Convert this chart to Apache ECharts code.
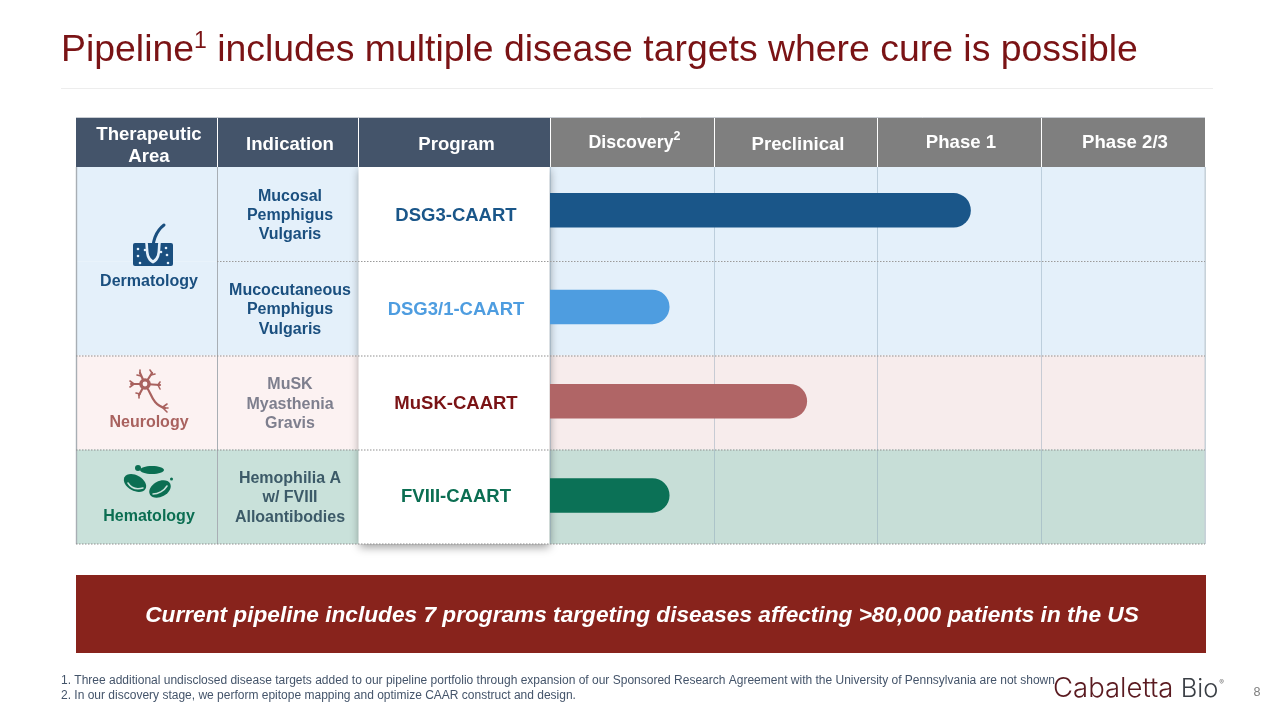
<!DOCTYPE html>
<html><head><meta charset="utf-8">
<style>html,body{margin:0;padding:0;background:#fff}#c{width:1280px;height:720px}</style>
<script src="https://cdn.jsdelivr.net/npm/echarts@6/dist/echarts.min.js"></script>
</head><body><div id="c"></div>
<script>
// ---- data ----
const stages = ['Discovery', 'Preclinical', 'Phase 1', 'Phase 2/3'];
const programs = ['DSG3-CAART', 'DSG3/1-CAART', 'MuSK-CAART', 'FVIII-CAART'];
const progress = [2.57, 0.73, 1.57, 0.73];
const programColors = ['#1A5689', '#4E9DE0', '#7A1315', '#0B6E52'];
const barColors = ['#1A5689', '#4E9DE0', '#B06566', '#0B7156'];
const indications = ['Mucosal\nPemphigus\nVulgaris', 'Mucocutaneous\nPemphigus\nVulgaris', 'MuSK\nMyasthenia\nGravis', 'Hemophilia A\nw/ FVIII\nAlloantibodies'];
const indicationColors = ['#1A4F7F', '#1A4F7F', '#7E7F8E', '#3C5A68'];

// ---- layout ----
const F = '"Liberation Sans", Arial, sans-serif';
const T = 167, RH = 94.25, L = 550, R = 1205;
const g = [];
const rect = (x, y, w, h, fill, z, extra) => g.push({type:'rect', z: z, silent:true, shape:Object.assign({x,y,width:w,height:h}, extra&&extra.shape), style:Object.assign({fill}, extra&&extra.style)});
const line = (x1, y1, x2, y2, stroke, w, dash, z) => g.push({type:'line', z: z===undefined?3:z, silent:true, shape:{x1,y1,x2,y2}, style:{stroke, lineWidth:w, lineDash:dash||null}});
const txt = (x, y, text, size, fill, o) => g.push({type:'text', z:(o&&o.z)||5, silent:true, style:Object.assign({x,y,text,fill,align:'center',verticalAlign:'middle',font:`${(o&&o.weight)||'bold'} ${size}px ${F}`}, o&&o.style)});

// title rule
line(61, 88.5, 1213, 88.5, '#EDEDED', 1);

// row bands
const bandsL = ['#E4F0FA', '#E4F0FA', '#FCF2F2', '#C9E1DA'];
const bandsR = ['#E4F0FA', '#E4F0FA', '#F7ECEC', '#C7DED7'];
bandsL.forEach((c, i) => rect(76, T + i*RH, L-76, RH, c, -20));
bandsR.forEach((c, i) => rect(L, T + i*RH, R-L, RH, c, -20));

// program panel
rect(358.5, T, 191, RH*4, '#fff', -5, {style:{shadowBlur:9, shadowColor:'rgba(0,0,0,0.4)', shadowOffsetY:3}});

// header
const navy = '#44546A', gray = '#7F7F7F';
[[76,141],[218,140],[359,191]].forEach(a => rect(a[0], 118, a[1], 49, navy, 4));
[[551,163],[715,162],[878,163],[1042,163]].forEach(a => rect(a[0], 118, a[1], 49, gray, 4));
line(76, 117.5, 1205, 117.5, '#C8CCD2', 1, null, 4);
txt(149, 146, 'Therapeutic\nArea', 18.6, '#fff', {style:{lineHeight:22}});
txt(290, 144.5, 'Indication', 18.6, '#fff');
txt(456.5, 144.5, 'Program', 18.6, '#fff');
g.push({type:'text', z:5, silent:true, style:{x:634.5, y:141, align:'center', verticalAlign:'middle', fill:'#fff',
  text:'{a|' + stages[0] + '}{s|2}', rich:{a:{font:`bold 17.8px ${F}`, fill:'#fff', verticalAlign:'bottom', lineHeight:22}, s:{font:`bold 12.5px ${F}`, fill:'#fff', verticalAlign:'top', lineHeight:22}}}});
txt(798, 145, stages[1], 18.6, '#fff');
txt(961, 143, stages[2], 18.6, '#fff');
txt(1125, 143, stages[3], 18.6, '#fff');

// left columns
line(76.5, T, 76.5, 544, '#A8AEB4', 1.4);
line(217.5, T, 217.5, 544, '#A8AEB4', 1);
line(1205, T, 1205, 544, '#C4CDD4', 1);
line(217, 261.5, R, 261.5, '#9A9A9A', 1, [1.5,1.5], 4);
[356, 450, 544].forEach(y => line(76, y, R, y, '#8F8F8F', 1, [1.5,1.5], 4));
indications.forEach((t, i) => txt(290, T + RH*(i+.5) + (i==3?1:1.5), t, 16, indicationColors[i], {style:{lineHeight:19.3}}));
txt(149, 281.5, 'Dermatology', 16, '#1A4F7F');
txt(149, 423, 'Neurology', 16, '#A9625F');
txt(149, 517, 'Hematology', 16, '#0B6E52');

// --- icons ---
const bez = (x1,y1,cx1,cy1,cx2,cy2,x2,y2,stroke,w) => g.push({type:'bezierCurve', z:4, silent:true, shape:{x1,y1,x2,y2,cpx1:cx1,cpy1:cy1,cpx2:cx2,cpy2:cy2}, style:{stroke,lineWidth:w,fill:null,lineCap:'round'}});
const dot = (cx,cy,r,fill) => g.push({type:'circle', z:4, silent:true, shape:{cx,cy,r}, style:{fill}});
const poly = (pts,stroke,w) => g.push({type:'polyline', z:4, silent:true, shape:{points:pts}, style:{stroke,lineWidth:w,fill:null,lineCap:'round',lineJoin:'round'}});
const ell = (cx,cy,rx,ry,rot,fill) => g.push({type:'ellipse', z:4, silent:true, x:cx, y:cy, rotation:rot, shape:{cx:0,cy:0,rx,ry}, style:{fill}});

// skin
const sk = '#1A4F7F';
rect(133, 243, 40, 23, sk, 4, {shape:{r:2}});
bez(146.5,243, 147.5,249, 145.5,258, 153,262, '#E4F0FA', 2.6);
bez(159.5,243, 158.5,249, 160.5,258, 153,262, '#E4F0FA', 2.6);
rect(147.5, 239, 12, 4, '#E4F0FA', 4);
bez(164,225, 156,231, 152,240, 152.5,256, sk, 3);
[[138,249],[138,256],[140,263],[166,248],[167,255],[168,263],[145,250],[161,252]].forEach(p => dot(p[0],p[1],1.3,'#E4F0FA'));

// neuron
const nr = '#A9625F';
poly([[145,384],[131,384]],nr,2.2); poly([[134,384],[130,381]],nr,1.6); poly([[134,384],[130,387]],nr,1.6);
poly([[145,384],[140,373]],nr,2.2); poly([[141,376],[137,375]],nr,1.6); poly([[140,373],[140,370]],nr,1.6);
poly([[145,384],[152,373]],nr,2.2); poly([[151,375],[155,374]],nr,1.6); poly([[152,373],[150,370]],nr,1.6);
poly([[145,384],[160,385]],nr,2.2); poly([[158,385],[160,382]],nr,1.6); poly([[158,385],[160,389]],nr,1.6);
poly([[145,384],[139,395]],nr,2.2); poly([[140,394],[136,393]],nr,1.6); poly([[139,395],[139,398]],nr,1.6);
bez(147,388, 151,392, 152,405, 165,408, nr, 2.2);
poly([[163,407],[167,404]],nr,1.6); poly([[164,408],[168,408]],nr,1.6); poly([[163,408],[167,412]],nr,1.6);
dot(145,384,5.8,nr); dot(145,384,2.4,'#FCF2F2');

// blood cells
const bc = '#0B6E52', bl = '#C9E1DA';
dot(138,468,3,bc); dot(171.5,479,1.5,bc);
ell(152,470,12,4,0,bc);
ell(135,483,12,7.8,-0.5,bc);
ell(160,489,11.5,7.8,0.5,bc);
bez(128,483, 131,488, 136,490, 143,488, bl, 1.5);
bez(153,494, 158,494, 164,491, 167,486, bl, 1.5);

// banner
rect(76, 575, 1130, 78, '#88231C', 4);
txt(642, 615.5, 'Current pipeline includes 7 programs targeting diseases affecting >80,000 patients in the US', 22.66, '#fff', {weight:'italic bold'});

// footnotes
txt(61, 680.5, '1. Three additional undisclosed disease targets added to our pipeline portfolio through expansion of our Sponsored Research Agreement with the University of Pennsylvania are not shown', 12, '#44546A', {weight:'normal', style:{align:'left'}});
txt(61, 695.5, '2. In our discovery stage, we perform epitope mapping and optimize CAAR construct and design.', 12, '#44546A', {weight:'normal', style:{align:'left'}});
txt(1257, 693, '8', 12.6, '#7F7F7F', {weight:'normal'});

// logo
g.push({type:'text', z:6, silent:true, style:{x:1053, y:689, align:'left', verticalAlign:'middle', text:'{a|Cabaletta}{b| Bio}{c|®}',
  rich:{a:{font:'300 27.5px Inter, Lato, sans-serif', fill:'#5A1A20'}, b:{font:'300 25.5px Inter, Lato, sans-serif', fill:'#3A3F45'}, c:{font:'400 7px Inter, sans-serif', fill:'#777', verticalAlign:'top', padding:[4,0,0,1]}}}});

// grid 0: stage gridlines; grids 1-2: drawn bars; grid 3: program labels
const hiddenX = i => ({type:'value', gridIndex:i, min:0, max:4, show:false});
const hiddenY = i => ({type:'category', gridIndex:i, inverse:true, data:programs, show:false});
const barSeries = (i, keep) => ({type:'bar', name:i==1?'Stage reached':'Stage reached (lead)', xAxisIndex:i, yAxisIndex:i, barWidth:34.5, z:3, silent:true,
  data:progress.map((v,k)=> keep(k) ? {value:v, itemStyle:{color:barColors[k], borderRadius:[0,17.2,17.2,0]}} : '-')});

const chart = echarts.init(document.getElementById('c'), null, {renderer:'canvas'});
chart.setOption({
  animation:false,
  backgroundColor:'#fff',
  title:{left:61, top:23, padding:0, itemGap:0,
    text:'{a|Pipeline}{s|1}{a| includes multiple disease targets where cure is possible}',
    textStyle:{rich:{a:{fontFamily:F, fontSize:37.4, color:'#7A1315', fontWeight:'normal', lineHeight:46, verticalAlign:'bottom'},
                     s:{fontFamily:F, fontSize:23, color:'#7A1315', fontWeight:'normal', lineHeight:34, verticalAlign:'top', padding:[7,0,0,0]}}}},
  grid:[{left:L, right:1280-R, top:T, height:RH*4},
        {left:L, right:1280-R, top:T-1.5, height:RH*4},
        {left:L, right:1280-R, top:T-3.8, height:RH*4},
        {left:L, right:1280-R, top:T+2.5, height:RH*4-2.5}],
  xAxis:[{type:'value', min:0, max:4, interval:1, axisLabel:{show:false}, axisLine:{show:false}, axisTick:{show:false},
    splitLine:{show:true, lineStyle:{color:'rgba(140,165,185,0.45)', width:1}}}, hiddenX(1), hiddenX(2), hiddenX(3)],
  yAxis:[hiddenY(0), hiddenY(1), hiddenY(2),
    {type:'category', gridIndex:3, inverse:true, data:programs.map((p,i)=>({value:p, textStyle:{color:programColors[i], align:'center'}})),
    axisLine:{show:false}, axisTick:{show:false},
    axisLabel:{margin:94, align:'center', fontFamily:F, fontWeight:'bold', fontSize:18.5, hideOverlap:false}}],
  series:[barSeries(1, k=>k>0), barSeries(2, k=>k==0)],
  graphic:{elements:g}
});
</script></body></html>
